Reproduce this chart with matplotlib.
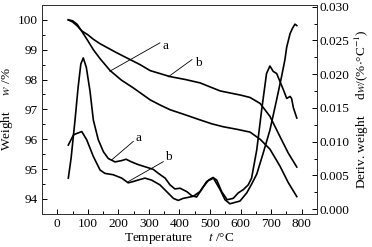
import numpy as np
import matplotlib
matplotlib.use("Agg")
import matplotlib.pyplot as plt
from matplotlib.ticker import MultipleLocator, FormatStrFormatter

# TG curves (left axis, weight %)
tg_a_t = [36, 50, 65, 80, 100, 118, 140, 173, 210, 249, 304, 336, 369, 410, 467, 505,
          543, 590, 631, 664, 696, 729, 756, 784]
tg_a_w = [100.0, 99.97, 99.85, 99.62, 99.3, 99.0, 98.7, 98.3, 97.98, 97.72, 97.32, 97.15,
          96.99, 96.85, 96.65, 96.52, 96.42, 96.33, 96.24, 96.0, 95.67, 95.1, 94.55, 94.08]
tg_b_t = [36, 50, 65, 80, 100, 118, 140, 194, 271, 304, 369, 420, 467, 533, 566, 600,
          631, 664, 696, 729, 756, 784]
tg_b_w = [100.0, 99.93, 99.8, 99.63, 99.5, 99.35, 99.2, 98.9, 98.5, 98.3, 98.1, 98.0,
          97.89, 97.62, 97.55, 97.48, 97.4, 97.2, 96.77, 96.09, 95.54, 95.07]

# DTG curves (right axis)
dtg_a_t = [36, 45, 58, 68, 77, 85, 95, 107, 118, 134, 151, 167, 189, 211, 225, 243, 265,
           293, 314, 331, 353, 369, 385, 402, 424, 440, 456, 478, 495, 510, 522, 538, 556,
           576, 592, 609, 625, 636, 653, 669, 685, 696, 707, 718, 729, 740, 751, 762, 767,
           773, 784]
dtg_a = [0.0046, 0.0075, 0.0132, 0.0180, 0.0215, 0.0224, 0.0210, 0.0175, 0.0132, 0.0103,
         0.0085, 0.0075, 0.0070, 0.0072, 0.0074, 0.0070, 0.0066, 0.0062, 0.0059, 0.0053,
         0.0046, 0.0036, 0.0030, 0.0031, 0.0026, 0.0020, 0.0018, 0.0033, 0.0043, 0.0047,
         0.0043, 0.0026, 0.0014, 0.0016, 0.0024, 0.0029, 0.0036, 0.0046, 0.0088, 0.0147,
         0.0201, 0.0212, 0.0204, 0.0201, 0.0189, 0.0177, 0.0164, 0.0167, 0.0164, 0.0150,
         0.0135]
dtg_b_t = [36, 53, 63, 80, 96, 118, 140, 156, 183, 211, 232, 249, 271, 287, 309, 336, 358,
           380, 396, 412, 445, 467, 489, 511, 533, 549, 565, 598, 620, 636, 653, 674, 696,
           718, 734, 745, 751, 762, 770, 778, 784]
dtg_b = [0.0095, 0.0110, 0.0112, 0.0115, 0.0103, 0.0078, 0.0058, 0.0053, 0.0051, 0.0046,
         0.0039, 0.0041, 0.0044, 0.0046, 0.0043, 0.0036, 0.0026, 0.0016, 0.0013, 0.0016,
         0.0019, 0.0026, 0.0041, 0.0046, 0.0029, 0.0014, 0.0008, 0.0012, 0.0024, 0.0037,
         0.0052, 0.0083, 0.0117, 0.0162, 0.0196, 0.0221, 0.0240, 0.0260, 0.0268, 0.0274,
         0.0272]

plt.rcParams['font.family'] = ['Liberation Serif', 'DejaVu Serif']
plt.rcParams['mathtext.fontset'] = 'stix'
plt.rcParams['font.size'] = 9.5

fig = plt.figure(figsize=(3.72, 2.47), dpi=100)
ax = fig.add_axes([0.113, 0.134, 0.739, 0.846])
ax2 = ax.twinx()

lw = 1.2
ax.plot(tg_a_t, tg_a_w, color='black', lw=lw)
ax.plot(tg_b_t, tg_b_w, color='black', lw=lw)
ax2.plot(dtg_a_t, dtg_a, color='black', lw=lw)
ax2.plot(dtg_b_t, dtg_b, color='black', lw=lw)

ax.set_xlim(-50, 850)
ax.set_ylim(93.5, 100.5)
ax2.set_ylim(-0.0007, 0.03025)

ax.xaxis.set_major_locator(MultipleLocator(100))
ax.xaxis.set_minor_locator(MultipleLocator(50))
ax.yaxis.set_major_locator(MultipleLocator(1))
ax.yaxis.set_minor_locator(MultipleLocator(0.5))
ax2.yaxis.set_major_locator(MultipleLocator(0.005))
ax2.yaxis.set_minor_locator(MultipleLocator(0.0025))
ax2.yaxis.set_major_formatter(FormatStrFormatter('%.3f'))

for a in (ax, ax2):
    a.tick_params(which='major', direction='in', length=3.5, width=0.7)
    a.tick_params(which='minor', direction='in', length=2, width=0.7)
    for s in a.spines.values():
        s.set_linewidth(0.7)
        s.set_color('#333333')
ax.tick_params(axis='y', pad=3)
ax.tick_params(axis='x', pad=3)
ax2.tick_params(axis='y', pad=1.5)

ax.set_ylabel('Weight     $w$ /%', labelpad=2)
ax2.set_ylabel('Deriv. weight     d$w$/(%$\\cdot$°C$^{-1}$)', labelpad=3)
ax.set_xlabel('Temperature     $t$ /°C', labelpad=1)

# labels a / b with leader lines (weight coords)
lead = dict(color='black', lw=0.6)
ax.plot([172, 336], [98.28, 99.23], **lead)
ax.text(345, 99.12, 'a', ha='left', va='center')
ax.plot([363, 441], [98.09, 98.67], **lead)
ax.text(450, 98.57, 'b', ha='left', va='center')
ax.plot([178, 249], [95.31, 95.93], **lead)
ax.text(255, 96.04, 'a', ha='left', va='center')
ax.plot([232, 347], [94.58, 95.25], **lead)
ax.text(353, 95.42, 'b', ha='left', va='center')

fig.savefig('out.png', dpi=100)
